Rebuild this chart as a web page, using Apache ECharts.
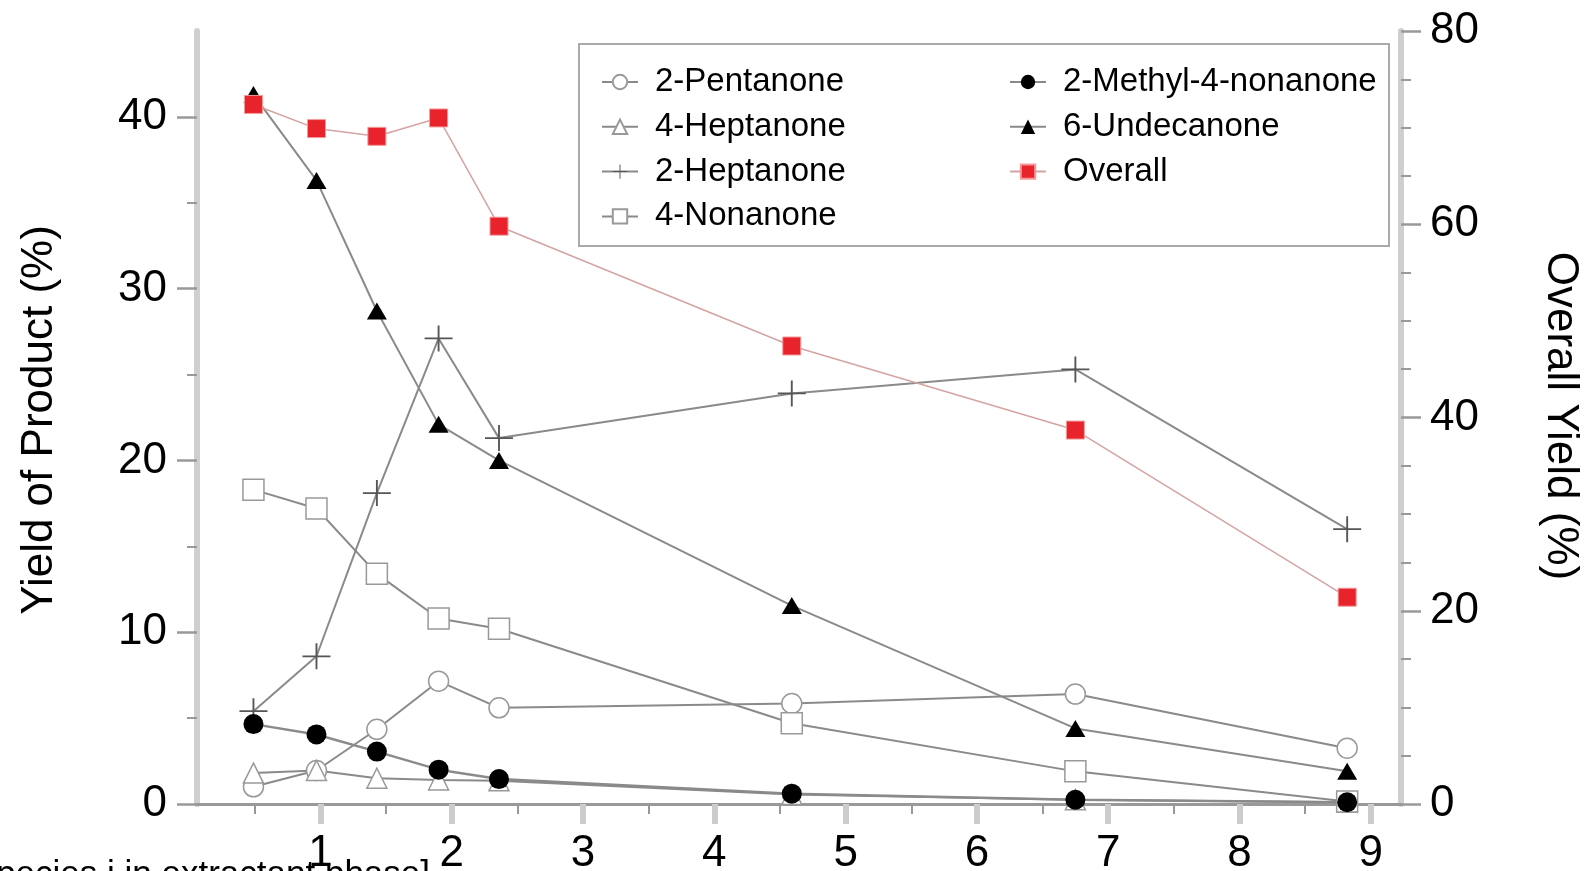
<!DOCTYPE html>
<html>
<head>
<meta charset="utf-8">
<script src="https://cdn.jsdelivr.net/npm/echarts@6/dist/echarts.min.js"></script>
<style>
html,body{margin:0;padding:0;background:#fff;}
#chart{width:1586px;height:871px;}
</style>
</head>
<body>
<div id="chart"></div>
<script>
// x positions of the samples (shared by all series)
const xValues = [0.49, 0.97, 1.43, 1.90, 2.36, 4.59, 6.75, 8.82];
// Yield of product (%) – left axis
const pentanone2 = [1.0, 1.95, 4.35, 7.15, 5.6, 5.85, 6.4, 3.25];
const heptanone4 = [1.8, 1.95, 1.5, 1.4, 1.35, 0.55, 0.25, 0.1];
const heptanone2 = [5.4, 8.6, 18.1, 27.1, 21.3, 23.9, 25.3, 16.0];
const nonanone4 = [18.3, 17.2, 13.4, 10.8, 10.2, 4.7, 1.9, 0.15];
const methylNonanone = [4.65, 4.05, 3.05, 2.0, 1.45, 0.6, 0.25, 0.1];
const undecanone6 = [41.3, 36.3, 28.7, 22.1, 20.0, 11.55, 4.4, 1.9];
// Overall yield (%) – right axis
const overall = [72.4, 69.9, 69.1, 71.0, 59.8, 47.4, 38.7, 21.4];

// tick labels
const xTickLabels = [1, 2, 3, 4, 5, 6, 7, 8, 9];
const xMinorTicks = [0.5, 1.5, 2.5, 3.5, 4.5, 5.5, 6.5, 7.5, 8.5];
const leftTickLabels = [0, 10, 20, 30, 40];
const leftMinorTicks = [5, 15, 25, 35];

const names = ['2-Pentanone', '4-Heptanone', '2-Heptanone', '4-Nonanone',
               '2-Methyl-4-nonanone', '6-Undecanone', 'Overall'];

const FONT = 'Liberation Sans, Arial, Helvetica, sans-serif';
const pts = arr => xValues.map((x, i) => [x, arr[i]]);
const GRAY_LINE = '#8a8a8a';
const PLUS = 'path://M14,0 H16 V30 H14 Z M0,14 H30 V16 H0 Z';

const chart = echarts.init(document.getElementById('chart'), null, {renderer: 'canvas'});

const XMIN = 0.06, XMAX = 9.23;

const legendText = {fontSize: 33, fontFamily: FONT, color: '#000', padding: [0, 0, 0, 12], lineHeight: 34};

const option = {
  animation: false,
  backgroundColor: '#fff',
  grid: {left: 197, right: 185, top: 31, bottom: 67, containLabel: false, outerBoundsMode: 'none'},
  xAxis: [
    {
      type: 'value', min: XMIN, max: XMAX, position: 'bottom',
      axisLine: {show: true, lineStyle: {color: '#999', width: 3}},
      axisTick: {show: true, customValues: xTickLabels, length: 20, inside: false,
                 lineStyle: {color: '#cccccc', width: 6}},
      axisLabel: {customValues: xTickLabels, fontSize: 44, color: '#000', margin: 28, fontFamily: FONT},
      splitLine: {show: false}
    },
    {
      type: 'value', min: XMIN, max: XMAX, position: 'bottom',
      axisLine: {show: false},
      axisTick: {show: true, customValues: xMinorTicks, length: 10, lineStyle: {color: '#999', width: 2}},
      axisLabel: {show: false},
      splitLine: {show: false}
    },
    {
      type: 'value', min: XMIN, max: XMAX, position: 'top',
      axisLine: {show: true, lineStyle: {color: '#999', width: 3}},
      axisTick: {show: false}, axisLabel: {show: false}, splitLine: {show: false}
    }
  ],
  yAxis: [
    {
      type: 'value', min: 0, max: 45, position: 'left',
      axisLine: {show: true, lineStyle: {color: '#cfcfcf', width: 6}},
      axisTick: {show: true, customValues: leftTickLabels, length: 20, lineStyle: {color: '#999', width: 2.5}},
      axisLabel: {customValues: leftTickLabels, fontSize: 44, color: '#000', margin: 30, fontFamily: FONT},
      splitLine: {show: false}
    },
    {
      type: 'value', min: 0, max: 80, interval: 20, position: 'right',
      axisLine: {show: true, lineStyle: {color: '#cfcfcf', width: 6}},
      axisTick: {show: true, length: 20, lineStyle: {color: '#999', width: 2.5}},
      minorTick: {show: true, splitNumber: 4, length: 10, lineStyle: {color: '#999', width: 2}},
      axisLabel: {fontSize: 44, color: '#000', margin: 29, fontFamily: FONT},
      splitLine: {show: false}, minorSplitLine: {show: false}
    },
    {
      type: 'value', min: 0, max: 45, position: 'left',
      axisLine: {show: false},
      axisTick: {show: true, customValues: leftMinorTicks, length: 10, lineStyle: {color: '#999', width: 2}},
      axisLabel: {show: false}, splitLine: {show: false}
    }
  ],
  legend: [
    {
      data: names.slice(0, 4), orient: 'vertical', left: 601, top: 65, padding: 0,
      itemWidth: 36, itemHeight: 18, itemGap: 10.8, selectedMode: false,
      textStyle: legendText
    },
    {
      data: names.slice(4), orient: 'vertical', left: 1009, top: 65, padding: 0,
      itemWidth: 36, itemHeight: 18, itemGap: 10.8, selectedMode: false,
      textStyle: legendText
    }
  ],
  graphic: [
    {type: 'rect', z: 0, shape: {x: 579, y: 44, width: 810, height: 202},
     style: {fill: '#fff', stroke: '#aaaaaa', lineWidth: 2}},
    {type: 'text', x: 40, y: 420, rotation: Math.PI / 2,
     style: {text: 'Yield of Product (%)', font: '44px ' + FONT, fill: '#000', textAlign: 'center', textVerticalAlign: 'middle'}},
    {type: 'text', x: 1560, y: 416, rotation: -Math.PI / 2,
     style: {text: 'Overall Yield (%)', font: '44px ' + FONT, fill: '#000', textAlign: 'center', textVerticalAlign: 'middle'}},
    {type: 'text', x: 430, y: 858,
     style: {text: 'species i in extractant phase]', font: '35px ' + FONT, fill: '#000', textAlign: 'right', textVerticalAlign: 'top'}}
  ],
  series: [
    {name: names[0], type: 'line', data: pts(pentanone2), symbol: 'circle', symbolSize: 20,
     itemStyle: {color: '#fff', borderColor: '#999', borderWidth: 1.5},
     lineStyle: {color: GRAY_LINE, width: 2}},
    {name: names[1], type: 'line', data: pts(heptanone4), symbol: 'triangle', symbolSize: 20,
     itemStyle: {color: '#fff', borderColor: '#999', borderWidth: 1.5},
     lineStyle: {color: GRAY_LINE, width: 2}},
    {name: names[2], type: 'line', data: pts(heptanone2), symbol: PLUS, symbolSize: [28, 26],
     itemStyle: {color: '#555', borderWidth: 0},
     lineStyle: {color: GRAY_LINE, width: 2}},
    {name: names[3], type: 'line', data: pts(nonanone4), symbol: 'rect', symbolSize: 21,
     itemStyle: {color: '#fff', borderColor: '#999', borderWidth: 1.5},
     lineStyle: {color: GRAY_LINE, width: 2}},
    {name: names[4], type: 'line', data: pts(methylNonanone), symbol: 'circle', symbolSize: 20,
     itemStyle: {color: '#000', borderColor: '#000', borderWidth: 0},
     lineStyle: {color: GRAY_LINE, width: 2.5}},
    {name: names[5], type: 'line', data: pts(undecanone6), symbol: 'triangle', symbolSize: [20, 17],
     itemStyle: {color: '#000', borderWidth: 0},
     lineStyle: {color: GRAY_LINE, width: 2}},
    {name: names[6], type: 'line', yAxisIndex: 1, data: pts(overall), symbol: 'rect', symbolSize: 18,
     itemStyle: {color: '#e8232b', borderColor: '#f29a9a', borderWidth: 1},
     lineStyle: {color: '#d4a3a3', width: 1.5}}
  ]
};
chart.setOption(option);
</script>
</body>
</html>
